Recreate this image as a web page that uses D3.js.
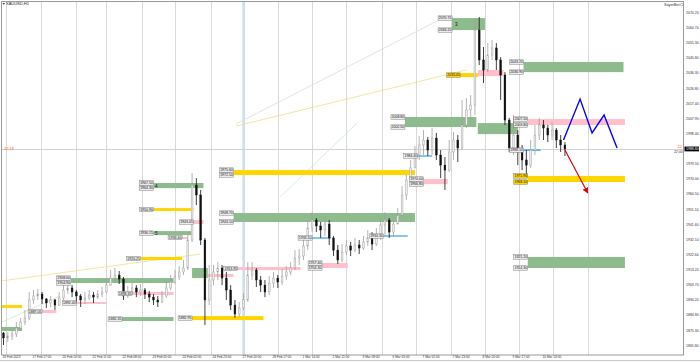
<!DOCTYPE html>
<html>
<head>
<meta charset="utf-8">
<script src="https://cdn.jsdelivr.net/npm/d3@7"></script>
<style>
  html, body { margin: 0; padding: 0; background: #fff; }
  svg { display: block; font-family: "Liberation Sans", Arial, sans-serif; }
</style>
</head>
<body>
<div id="chart"></div>
<script>
// XAUUSD H1 chart, candles drawn 3 hourly bars per candle
const symbol = "XAUUSD,H1";
const firstOpen = 1873.6;
const closes = [
  1870.5, 1871.7, 1873.0, 1876.7, 1880.5, 1883.0, 1894.3, 1896.8, 1898.0, 1894.9,
  1892.4, 1894.3, 1891.1, 1895.5, 1900.5, 1901.8, 1899.3, 1896.8, 1894.3, 1895.5,
  1897.4, 1896.1, 1898.0, 1899.3, 1903.6, 1908.0, 1909.9, 1907.4, 1896.8, 1899.3,
  1901.8, 1899.3, 1900.5, 1898.0, 1896.1, 1894.3, 1893.0, 1896.8, 1901.8, 1905.5,
  1908.7, 1911.8, 1914.3, 1931.8, 1966.2, 1960.0, 1931.8, 1894.3, 1906.8, 1911.8,
  1914.3, 1908.0, 1900.5, 1891.1, 1885.5, 1889.3, 1894.3, 1909.9, 1913.0, 1906.8,
  1903.6, 1899.3, 1904.9, 1908.0, 1905.5, 1909.3, 1911.8, 1914.3, 1920.5, 1921.8,
  1928.1, 1939.3, 1944.3, 1940.6, 1938.1, 1941.8, 1933.1, 1925.5, 1919.3, 1924.3,
  1928.1, 1925.5, 1928.7, 1926.8, 1930.6, 1933.1, 1929.3, 1934.3, 1941.2, 1944.3,
  1936.8, 1941.8, 1947.5, 1960.0, 1969.4, 1976.9, 1985.0, 1991.3, 1994.4, 1988.1,
  1995.6, 1985.0, 1978.7, 1975.6, 1986.9, 1994.4, 1989.4, 2003.8, 2013.2, 2016.3,
  2063.2, 2044.5, 2038.2, 2047.6, 2052.0, 2044.5, 2035.1, 2006.9, 1989.4, 1997.5,
  1988.1, 1981.9, 1978.7, 1988.1, 1997.5, 2003.8, 2001.9, 1997.5, 2000.6, 1994.4,
  1991.3, 1988.8
];
const highs = [
  1874.2, 1874.2, 1875.5, 1880.5, 1883.0, 1888.0, 1899.3, 1900.5, 1901.1, 1899.3,
  1895.5, 1896.8, 1894.9, 1899.3, 1904.9, 1905.5, 1903.6, 1900.5, 1898.0, 1899.3,
  1900.5, 1899.3, 1900.5, 1902.4, 1908.0, 1913.0, 1914.3, 1912.4, 1908.7, 1903.0,
  1904.9, 1903.6, 1904.3, 1901.8, 1899.9, 1898.0, 1896.8, 1899.9, 1905.5, 1909.9,
  1913.0, 1915.5, 1919.3, 1936.8, 1973.7, 1970.6, 1963.1, 1933.1, 1916.2, 1916.2,
  1918.0, 1916.2, 1911.8, 1903.6, 1894.3, 1893.0, 1898.6, 1918.0, 1918.0, 1914.3,
  1909.3, 1906.8, 1909.3, 1911.8, 1909.9, 1913.7, 1915.5, 1918.0, 1925.5, 1926.2,
  1933.1, 1944.3, 1949.3, 1945.6, 1943.1, 1946.8, 1944.3, 1934.3, 1928.7, 1929.3,
  1931.8, 1930.6, 1933.1, 1931.8, 1934.3, 1938.1, 1936.8, 1939.3, 1945.6, 1949.3,
  1945.6, 1945.6, 1951.8, 1965.6, 1972.5, 1981.9, 1990.6, 1996.9, 2000.6, 1996.3,
  2001.9, 1998.8, 1988.1, 1983.7, 1994.4, 1999.4, 1997.5, 2019.4, 2020.7, 2022.5,
  2070.7, 2071.4, 2052.6, 2055.1, 2057.0, 2055.1, 2046.3, 2036.9, 2008.2, 2010.0,
  2000.6, 1991.3, 1988.1, 1994.4, 2003.8, 2008.2, 2006.9, 2003.8, 2005.7, 2001.9,
  1997.5, 1993.1
];
const lows = [
  1866.1, 1868.0, 1869.2, 1871.1, 1875.5, 1878.6, 1881.7, 1891.8, 1894.3, 1891.8,
  1889.3, 1889.9, 1888.0, 1890.5, 1894.3, 1898.0, 1896.1, 1892.4, 1889.9, 1891.8,
  1894.3, 1892.4, 1894.9, 1896.1, 1898.6, 1903.0, 1905.5, 1904.3, 1894.3, 1895.5,
  1897.4, 1896.1, 1896.8, 1894.9, 1893.0, 1891.1, 1889.9, 1892.4, 1895.5, 1900.5,
  1904.3, 1906.8, 1909.9, 1913.0, 1930.6, 1953.7, 1928.7, 1878.6, 1891.1, 1903.6,
  1906.8, 1903.6, 1894.3, 1888.0, 1883.0, 1883.6, 1888.0, 1893.0, 1906.8, 1902.4,
  1899.3, 1896.1, 1897.4, 1901.8, 1901.8, 1903.6, 1906.8, 1909.9, 1913.0, 1916.2,
  1919.3, 1925.5, 1936.8, 1936.8, 1933.1, 1934.3, 1928.7, 1921.8, 1916.8, 1918.0,
  1922.4, 1921.8, 1924.3, 1923.0, 1925.5, 1928.1, 1925.5, 1928.1, 1931.8, 1934.3,
  1933.1, 1934.3, 1941.8, 1945.6, 1956.8, 1968.1, 1976.9, 1981.9, 1985.0, 1984.4,
  1985.0, 1981.9, 1970.6, 1963.1, 1974.4, 1981.9, 1980.6, 1988.1, 2001.9, 2005.7,
  2010.0, 2041.3, 2030.1, 2036.9, 2044.5, 2038.2, 2019.4, 2003.8, 1986.9, 1985.0,
  1978.7, 1975.6, 1972.5, 1976.9, 1985.0, 1994.4, 1994.4, 1993.1, 1994.4, 1989.4,
  1986.9, 1984.4
];

const priceTicks = [
  "2074.20", "2064.70", "2055.30", "2045.80", "2036.30", "2026.80", "2017.40", "2007.90",
  "1998.40", "1988.90", "1979.50", "1970.00", "1960.50", "1951.10", "1941.60", "1932.10",
  "1922.60", "1913.20", "1903.70", "1894.20", "1884.80", "1875.30", "1865.80"
];
const timeTicks = [
  "16 Feb 2023", "17 Feb 17:00", "20 Feb 14:00", "21 Feb 11:00", "22 Feb 08:00",
  "23 Feb 05:00", "24 Feb 02:00", "24 Feb 23:00", "27 Feb 20:00", "28 Feb 17:00",
  "1 Mar 14:00", "2 Mar 11:00", "3 Mar 08:00", "6 Mar 05:00", "7 Mar 02:00",
  "7 Mar 23:00", "8 Mar 20:00", "9 Mar 17:00", "10 Mar 14:00"
];
// day separators, as bar numbers
const dayLines = [2, 26, 51, 72, 97, 120, 145, 168, 192, 216, 240, 265, 289, 313, 337, 361, 385, 409];

// zones: [startBar, endBar, topPrice, bottomPrice, withLabels]
const greenZones = [
  [-3, 13, 1877.4, 1874.9, 0], [47, 119, 1908.0, 1904.9, 1], [83, 119, 1883.6, 1881.1, 1],
  [105, 140, 1967.5, 1964.3, 1], [105, 132, 1937.4, 1934.9, 1], [132, 143, 1914.3, 1908.0, 0],
  [161, 288, 1948.7, 1943.1, 1], [281, 331, 2008.8, 2002.5, 1], [332, 360, 2005.0, 1998.1, 0],
  [314, 337, 2070.7, 2063.2, 1], [364, 434, 2043.2, 2036.9, 1], [367, 435, 1921.2, 1914.3, 1]
];
const yellowZones = [
  [-3, 13, 1891.1, 1889.3, 0], [96, 125, 1921.2, 1919.3, 1], [105, 133, 1951.8, 1950.0, 1],
  [161, 288, 1975.6, 1972.5, 1], [132, 182, 1884.2, 1881.7, 1], [320, 332, 2036.3, 2033.8, 1],
  [367, 435, 1971.9, 1968.1, 1]
];
const pinkZones = [
  [27, 37, 1888.0, 1886.1, 1], [51, 72, 1893.0, 1891.8, 1], [90, 119, 1899.3, 1897.4, 1],
  [133, 140, 1944.3, 1941.8, 1], [125, 129, 1933.7, 1933.1, 1], [143, 161, 1910.5, 1908.7, 0],
  [164, 208, 1914.9, 1913.0, 1], [223, 241, 1917.4, 1914.3, 1], [294, 311, 1970.0, 1966.8, 1],
  [332, 350, 2038.2, 2034.4, 0], [367, 435, 2007.5, 2003.8, 1]
];
// short blue levels: [startBar, endBar, price]
const blueLevels = [[216, 229, 1933.1], [266, 283, 1934.3], [290, 300, 1984.4], [364, 376, 1988.1]];
const zoneTags = [["3", 316, 2066.9], ["4", 106, 1965.9], ["5", 106, 1936.1]];

// hand drawn forecast
const forecastBlue = [[392, 1994.4], [403.6, 2020.0], [412, 1998.8], [420.4, 2010.0], [429.5, 1989.4]];
const forecastRed = [[393, 1988.1], [409, 1961.2]];
// faint trend lines: [colour, [bar, price], [bar, price]]
const faintLines = [
  ["#efe08c", [162.7, 2003.1], [323.7, 2038.2]],
  ["#dcdcdc", [162.7, 2004.4], [309, 2071.4]],
  ["#efe08c", [-2.5, 1906.1], [137.6, 1923.0]],
  ["#cfe6cf", [-2.5, 1879.9], [39.5, 1896.8]],
  ["#cfe6cf", [193.6, 1958.7], [247.5, 2005.0]]
];
const markedBar = 168;

const W = 700, H = 362;
const plot = { left: 1.5, top: 1.5, right: 683.5, bottom: 355 };

const x = d3.scaleLinear().domain([0, 420]).range([3.5, 603.5]);
const y = d3.scaleLinear().domain([1865.8, 2074.2]).range([345.5, 12.5]);

const svg = d3.select("#chart").append("svg")
    .attr("width", W)
    .attr("height", H);

svg.append("defs").append("clipPath").attr("id", "clip")
  .append("rect")
    .attr("x", plot.left).attr("y", plot.top)
    .attr("width", plot.right - plot.left).attr("height", plot.bottom - plot.top);

svg.select("defs").append("marker")
    .attr("id", "arrow")
    .attr("viewBox", "0 0 10 10")
    .attr("refX", 9).attr("refY", 5)
    .attr("markerWidth", 5).attr("markerHeight", 5)
    .attr("orient", "auto")
  .append("path")
    .attr("d", "M0,0 L10,5 L0,10 z")
    .attr("fill", "#e00000");

const g = svg.append("g").attr("clip-path", "url(#clip)");

// day separators
g.selectAll(".day")
  .data(dayLines)
  .join("line")
    .attr("x1", d => Math.round(x(d)) + 0.5)
    .attr("x2", d => Math.round(x(d)) + 0.5)
    .attr("y1", plot.top).attr("y2", plot.bottom)
    .attr("stroke", "#d9d9d9")
    .attr("stroke-width", 1);

// highlighted bar
g.append("line")
    .attr("x1", x(markedBar)).attr("x2", x(markedBar))
    .attr("y1", plot.top).attr("y2", plot.bottom)
    .attr("stroke", "#cadff4")
    .attr("stroke-width", 2.2);

// faint trend lines
g.selectAll(".trend")
  .data(faintLines)
  .join("line")
    .attr("x1", d => x(d[1][0])).attr("y1", d => y(d[1][1]))
    .attr("x2", d => x(d[2][0])).attr("y2", d => y(d[2][1]))
    .attr("stroke", d => d[0])
    .attr("stroke-width", 0.8);

// current price line
const last = closes[closes.length - 1];
g.append("line")
    .attr("x1", plot.left).attr("x2", plot.right)
    .attr("y1", Math.round(y(last)) + 0.5).attr("y2", Math.round(y(last)) + 0.5)
    .attr("stroke", "#d2d2d2");

// zones
function drawZones(data, color) {
  g.append("g").selectAll("rect")
    .data(data)
    .join("rect")
      .attr("x", d => x(d[0]))
      .attr("width", d => x(d[1]) - x(d[0]))
      .attr("y", d => y(d[2]))
      .attr("height", d => Math.max(2, y(d[3]) - y(d[2])))
      .attr("fill", color);
}
drawZones(pinkZones, "#ffbfcb");
drawZones(yellowZones, "#ffd500");
drawZones(greenZones, "#8dbb8d");

g.append("g").selectAll("line")
  .data(blueLevels)
  .join("line")
    .attr("x1", d => x(d[0])).attr("x2", d => x(d[1]))
    .attr("y1", d => y(d[2])).attr("y2", d => y(d[2]))
    .attr("stroke", "#5cb3f2")
    .attr("stroke-width", 1.6);

// candles
const candles = closes.map((c, i) => ({
  bar: i * 3,
  o: i ? closes[i - 1] : firstOpen,
  h: highs[i], l: lows[i], c
}));
const cg = g.append("g");
cg.selectAll("line")
  .data(candles)
  .join("line")
    .attr("x1", d => x(d.bar)).attr("x2", d => x(d.bar))
    .attr("y1", d => y(d.h)).attr("y2", d => y(d.l))
    .attr("stroke", d => d.c < d.o ? "#111" : "#a0a0a0")
    .attr("stroke-width", 0.8);
cg.selectAll("rect")
  .data(candles)
  .join("rect")
    .attr("x", d => x(d.bar) - 0.9)
    .attr("width", 1.8)
    .attr("y", d => y(Math.max(d.o, d.c)))
    .attr("height", d => Math.max(0.8, Math.abs(y(d.o) - y(d.c))))
    .attr("fill", d => d.c < d.o ? "#111" : "#ececec")
    .attr("stroke", d => d.c < d.o ? "#111" : "#999")
    .attr("stroke-width", 0.4);

// price tags left of zones
const lg = g.append("g");
function tag(xr, price, fill) {
  const yy = y(price);
  lg.append("rect")
      .attr("x", xr - 14).attr("y", yy - 2.2)
      .attr("width", 14).attr("height", 4.4)
      .attr("fill", fill).attr("stroke", "#666").attr("stroke-width", 0.4);
  lg.append("text")
      .attr("x", xr - 7).attr("y", yy + 1.2)
      .attr("text-anchor", "middle")
      .attr("font-size", 3.5)
      .attr("fill", "#111")
      .text(price.toFixed(2));
}
[...greenZones, ...yellowZones, ...pinkZones].filter(d => d[4]).forEach(d => {
  const fill = yellowZones.includes(d) && d[0] > 300 ? "#ffd500" : "#ececec";
  if (y(d[3]) - y(d[2]) < 4) {
    tag(x(d[0]), (d[2] + d[3]) / 2, fill);
  } else {
    tag(x(d[0]), d[2], fill);
    tag(x(d[0]), d[3], fill);
  }
});
blueLevels.forEach(d => tag(x(d[0]), d[2], "#ececec"));

lg.selectAll(".ztag")
  .data(zoneTags)
  .join("text")
    .attr("x", d => x(d[1])).attr("y", d => y(d[2]) + 2)
    .attr("font-size", 4.5)
    .attr("fill", "#111")
    .text(d => d[0]);

// forecast lines
const line = d3.line().x(d => x(d[0])).y(d => y(d[1]));
g.append("path")
    .attr("d", line(forecastBlue))
    .attr("fill", "none")
    .attr("stroke", "#0000ff")
    .attr("stroke-width", 1.4);
g.append("path")
    .attr("d", line(forecastRed))
    .attr("fill", "none")
    .attr("stroke", "#e00000")
    .attr("stroke-width", 1.2)
    .attr("marker-end", "url(#arrow)");

// frame
svg.append("rect")
    .attr("x", plot.left).attr("y", plot.top)
    .attr("width", plot.right - plot.left).attr("height", plot.bottom - plot.top)
    .attr("fill", "none")
    .attr("stroke", "#9a9a9a");

// price axis
svg.append("g").selectAll("text")
  .data(priceTicks)
  .join("text")
    .attr("x", plot.right + 2.5)
    .attr("y", d => y(+d) + 1.3)
    .attr("font-size", 3.5)
    .attr("fill", "#333")
    .text(d => d);

svg.append("rect")
    .attr("x", plot.right + 1).attr("y", y(last) - 2.4)
    .attr("width", 14.5).attr("height", 4.8)
    .attr("fill", "#000");
svg.append("text")
    .attr("x", plot.right + 2.5).attr("y", y(last) + 1.3)
    .attr("font-size", 3.5)
    .attr("fill", "#fff")
    .text(last.toFixed(2));
svg.append("text")
    .attr("x", plot.right - 1.5).attr("y", y(last) - 1)
    .attr("text-anchor", "end")
    .attr("font-size", 4)
    .attr("fill", "#ff6a00")
    .text("22");
svg.append("text")
    .attr("x", plot.right - 0.8).attr("y", y(last) + 3.8)
    .attr("text-anchor", "end")
    .attr("font-size", 3.5)
    .attr("fill", "#333")
    .text("22:00");
svg.append("text")
    .attr("x", 4).attr("y", y(last) + 1)
    .attr("font-size", 4)
    .attr("fill", "#ff6a00")
    .text("22:18");

// time axis
svg.append("g").selectAll("text")
  .data(timeTicks)
  .join("text")
    .attr("x", (d, i) => x(i * 21) - 1)
    .attr("y", plot.bottom + 3.4)
    .attr("font-size", 3.2)
    .attr("fill", "#333")
    .text(d => d);

svg.append("line")
    .attr("x1", 0).attr("x2", W)
    .attr("y1", 360.5).attr("y2", 360.5)
    .attr("stroke", "#c8c8c8");

// title and corner text
svg.append("path")
    .attr("d", "M2.5,3.2 L5,3.2 L3.75,4.8 z")
    .attr("fill", "#111");
svg.append("text")
    .attr("x", 6).attr("y", 5.3)
    .attr("font-size", 4)
    .attr("fill", "#222")
    .text(symbol);
svg.append("text")
    .attr("x", plot.right - 4).attr("y", 6)
    .attr("text-anchor", "end")
    .attr("font-size", 3.8)
    .attr("fill", "#333")
    .text("SayerBot");
svg.append("circle")
    .attr("cx", plot.right - 1.8).attr("cy", 4.6).attr("r", 1.3)
    .attr("fill", "none").attr("stroke", "#777").attr("stroke-width", 0.5);
</script>
</body>
</html>
